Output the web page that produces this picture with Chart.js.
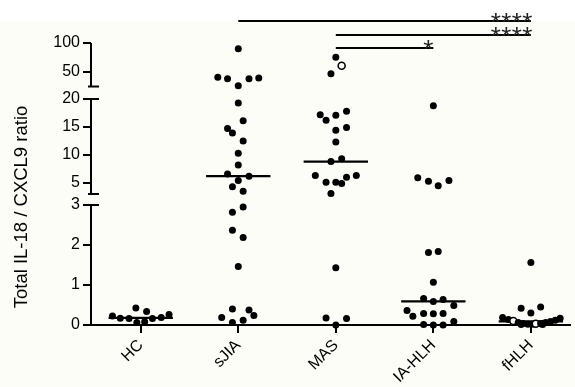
<!DOCTYPE html>
<html>
<head>
<meta charset="utf-8">
<script src="https://cdn.jsdelivr.net/npm/chart.js@4.4.1/dist/chart.umd.min.js"></script>
<style>
  html, body { margin: 0; padding: 0; background: #fff; }
</style>
</head>
<body>
<canvas id="dotPlot" width="575" height="387"></canvas>
<script>
const groups = ['HC', 'sJIA', 'MAS', 'IA-HLH', 'fHLH'];
const yTicks = [0, 1, 2, 3, 5, 10, 15, 20, 50, 100];

// IL-18 / CXCL9 ratio per patient, plus the sideways spread of each dot
const hcValues = [0.225, 0.17, 0.16, 0.425, 0.06, 0.08, 0.34, 0.16, 0.19, 0.26];
const hcSpread = [-0.29, -0.21, -0.12, -0.05, -0.04, 0.04, 0.06, 0.12, 0.21, 0.29];

const sjiaValues = [90, 40.9, 38.5, 26.4, 38.5, 39.7, 19.3, 16.1, 14.7, 13.9, 12.5, 10.3, 8.2, 6.6, 6.2,
  5.4, 4.3, 3.5, 2.95, 2.82, 2.37, 2.19, 1.46, 0.40, 0.375, 0.19, 0.24, 0.06, 0.12];
const sjiaSpread = [0, -0.21, -0.11, 0, 0.11, 0.21, 0, 0.05, -0.11, -0.06, 0.05, 0, 0, -0.11, 0.11,
  0, -0.06, 0.05, 0.05, -0.06, -0.06, 0.05, 0, -0.06, 0.11, -0.17, 0.16, -0.06, 0.05];

const masValues = [75.3, 60.9, 47, 17.2, 16.2, 17.1, 17.8, 14.4, 14.9, 12.3, 8.8, 9.3, 6.3, 5.1, 5.1,
  4.9, 6.0, 6.3, 3.1, 1.43, 0.175, 0.16, 0];
const masSpread = [0, 0.06, -0.05, -0.16, -0.10, 0, 0.11, 0, 0.11, 0, -0.05, 0.06, -0.21, -0.10, 0,
  0.06, 0.11, 0.21, -0.05, 0, -0.10, 0.11, 0];
const masOpen = [1];

const iaValues = [18.8, 5.9, 5.3, 4.5, 5.4, 1.81, 1.84, 1.07, 0.66, 0.59, 0.64, 0.49, 0.36, 0.22, 0.29,
  0.28, 0.29, 0.09, 0.01, 0, 0];
const iaSpread = [0, -0.16, -0.05, 0.05, 0.16, -0.05, 0.05, 0, -0.10, 0, 0.10, 0.21, -0.27, -0.21, -0.10,
  0, 0.10, 0.21, -0.10, 0, 0.10];

const fhlhValues = [1.56, 0.42, 0.45, 0.30, 0.19, 0.14, 0.10, 0.06, 0.01, 0.04, 0.02, 0.02, 0.03, 0.04,
  0.01, 0.06, 0.09, 0.12, 0.17];
const fhlhSpread = [0, -0.10, 0.10, 0, -0.29, -0.23, -0.18, -0.13, -0.10, -0.08, -0.03, 0.02, 0.05, 0.10,
  0.12, 0.15, 0.20, 0.25, 0.30];
const fhlhOpen = [6, 12];

const brackets = [
  { from: 1, to: 4, label: '****' },
  { from: 2, to: 4, label: '****' },
  { from: 2, to: 3, label: '*' }
];

const FONT = '"Liberation Sans", Arial, Helvetica, sans-serif';

// broken y axis: value ranges and the share of the axis height they occupy
const segments = [
  { min: 0, max: 3, lo: 0, hi: 0.4255 },
  { min: 3, max: 20, lo: 0.4645, hi: 0.8014 },
  { min: 25, max: 100, lo: 0.8457, hi: 1 }
];

class BrokenScale extends Chart.LinearScale {
  buildTicks() {
    return yTicks.map(v => ({ value: v }));
  }
  segmentPixels(s) {
    return [this.bottom - s.lo * this.height, this.bottom - s.hi * this.height];
  }
  getPixelForValue(value) {
    const s = segments.find(seg => value <= seg.max) || segments[segments.length - 1];
    const v = Math.max(s.min, Math.min(value, s.max));
    const f = s.lo + (v - s.min) / (s.max - s.min) * (s.hi - s.lo);
    return this.bottom - f * this.height;
  }
  getValueForPixel(pixel) {
    const f = (this.bottom - pixel) / this.height;
    const s = segments.find(seg => f <= seg.hi) || segments[segments.length - 1];
    return s.min + (Math.max(f, s.lo) - s.lo) / (s.hi - s.lo) * (s.max - s.min);
  }
}
BrokenScale.id = 'broken';
BrokenScale.defaults = Chart.LinearScale.defaults;
Chart.register(BrokenScale);

function median(arr) {
  const s = [...arr].sort((a, b) => a - b);
  const m = Math.floor(s.length / 2);
  return s.length % 2 ? s[m] : (s[m - 1] + s[m]) / 2;
}

const groupData = [
  { values: hcValues, spread: hcSpread, open: [] },
  { values: sjiaValues, spread: sjiaSpread, open: [] },
  { values: masValues, spread: masSpread, open: masOpen },
  { values: iaValues, spread: iaSpread, open: [] },
  { values: fhlhValues, spread: fhlhSpread, open: fhlhOpen }
];

const dotSets = groupData.map((g, gi) => ({
  label: groups[gi],
  data: g.values.map((v, i) => ({ x: gi + g.spread[i], y: v })),
  pointRadius: 3.5,
  pointHoverRadius: 3.5,
  pointBackgroundColor: g.values.map((v, i) => g.open.includes(i) ? '#ffffff' : '#000000'),
  pointBorderColor: '#000000',
  pointBorderWidth: g.values.map((v, i) => g.open.includes(i) ? 1.6 : 0),
  showLine: false,
  clip: false
}));

const medianSets = groupData.map((g, gi) => {
  const m = median(g.values);
  return {
    label: groups[gi] + ' median',
    data: [{ x: gi - 0.33, y: m }, { x: gi + 0.33, y: m }],
    showLine: true,
    borderColor: '#000000',
    borderWidth: 2.2,
    pointRadius: 0,
    clip: false
  };
});

const frame = {
  id: 'frame',
  beforeDraw(chart) {
    const { ctx, width, height } = chart;
    ctx.save();
    ctx.fillStyle = '#ffffff';
    ctx.fillRect(0, 0, width, height);
    ctx.fillStyle = '#fdfdf7';
    ctx.fillRect(0, 21, width, height - 21);
    ctx.restore();
  },
  beforeDatasetsDraw(chart) {
    const { ctx } = chart;
    const y = chart.scales.y;
    const ax = y.right;
    ctx.save();
    ctx.strokeStyle = '#000';
    ctx.lineWidth = 2;
    segments.forEach((s, i) => {
      const [bottom, top] = y.segmentPixels(s);
      ctx.beginPath();
      ctx.moveTo(ax, i === 0 ? bottom + 1 : bottom);
      ctx.lineTo(ax, top);
      ctx.stroke();
      // break caps
      ctx.beginPath();
      if (i > 0) { ctx.moveTo(ax - 3, bottom); ctx.lineTo(ax + 8, bottom); }
      if (i < segments.length - 1) { ctx.moveTo(ax - 3, top); ctx.lineTo(ax + 8, top); }
      ctx.stroke();
    });

    // axis title
    ctx.fillStyle = '#000';
    ctx.font = '18.5px ' + FONT;
    ctx.textAlign = 'center';
    ctx.textBaseline = 'middle';
    ctx.translate(22, 207);
    ctx.rotate(-Math.PI / 2);
    ctx.fillText('Total IL-18 / CXCL9 ratio', 0, 0);
    ctx.restore();
  },
  afterDraw(chart) {
    const { ctx } = chart;
    const x = chart.scales.x;
    const rows = [21, 35, 48];
    ctx.save();
    ctx.strokeStyle = '#000';
    ctx.fillStyle = '#222';
    ctx.lineWidth = 2;
    ctx.font = '26px ' + FONT;
    ctx.textAlign = 'center';
    ctx.textBaseline = 'alphabetic';
    brackets.forEach((b, i) => {
      const x1 = x.getPixelForValue(b.from);
      const x2 = x.getPixelForValue(b.to);
      ctx.beginPath();
      ctx.moveTo(x1, rows[i]);
      ctx.lineTo(x2, rows[i]);
      ctx.stroke();
      // significance stars, right-aligned on the bracket end
      const n = b.label.length;
      const end = n > 1 ? x2 - 3.5 : x2 - 5;
      for (let k = 0; k < n; k++) {
        ctx.fillText(b.label[k], end - (n - 1 - k) * 10.5, rows[i] + 10);
      }
    });
    ctx.restore();
  }
};

new Chart(document.getElementById('dotPlot'), {
  type: 'scatter',
  data: { datasets: [...dotSets, ...medianSets] },
  options: {
    responsive: false,
    animation: false,
    layout: { padding: { top: 43, left: 0, right: 0, bottom: 0 } },
    plugins: {
      legend: { display: false },
      tooltip: { enabled: false }
    },
    scales: {
      x: {
        type: 'linear',
        min: -0.51,
        max: 4.4,
        afterBuildTicks: s => { s.ticks = groups.map((g, i) => ({ value: i })); },
        afterFit: s => { s.height = 62; s.paddingLeft = 0; s.paddingRight = 0; },
        border: { display: true, color: '#000', width: 2 },
        grid: { drawOnChartArea: false, drawTicks: true, tickLength: 8, color: '#000', lineWidth: 2 },
        ticks: {
          autoSkip: false,
          maxRotation: 45,
          minRotation: 45,
          padding: 3,
          color: '#000',
          font: { size: 16, family: FONT },
          callback: v => groups[v]
        }
      },
      y: {
        type: 'broken',
        min: 0,
        max: 100,
        afterFit: s => { s.width = 91; },
        border: { display: false },
        grid: { drawOnChartArea: false, drawTicks: true, tickLength: 8, color: '#000', lineWidth: 2 },
        ticks: {
          autoSkip: false,
          padding: 3,
          color: '#000',
          font: { size: 16, family: FONT },
          callback: v => String(v)
        }
      }
    }
  },
  plugins: [frame]
});
</script>
</body>
</html>
